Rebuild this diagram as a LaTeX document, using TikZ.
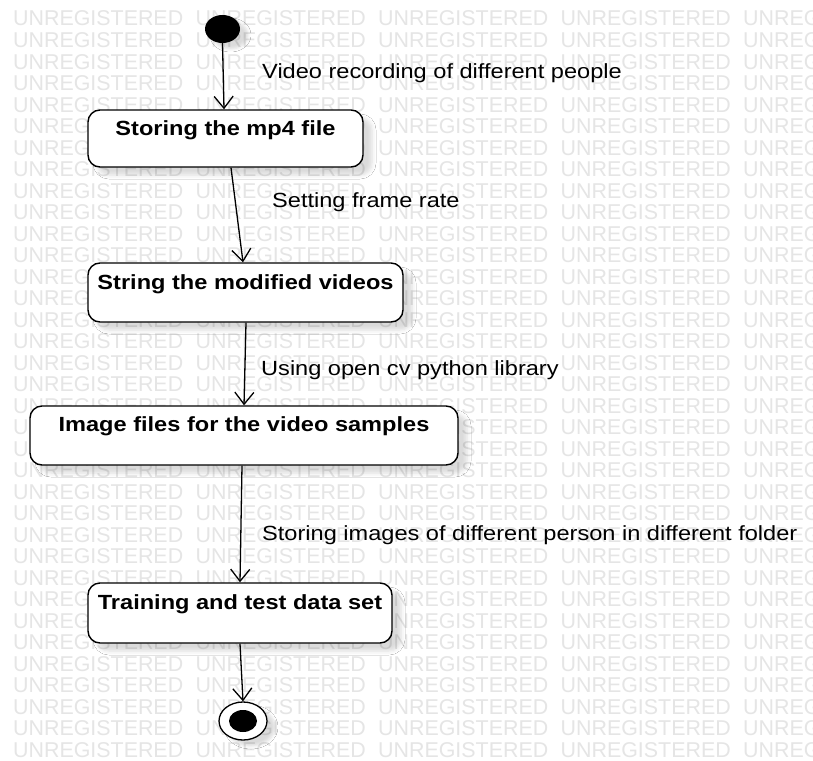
\documentclass[tikz,border=0pt]{standalone}
\usepackage{fontspec}
\setmainfont{Liberation Sans}
\usepackage{graphicx}
\usetikzlibrary{arrows.meta,shapes.geometric,shadows.blur}
\newcommand\widetext[1]{\scalebox{1.15}[1]{#1}}
\begin{document}
\begin{tikzpicture}[x=1pt,y=-1pt,
  wm/.style={inner sep=0pt, text=black!10, font=\fontsize{21.4}{24}\selectfont},
  statebox/.style={draw=black, line width=1.4pt, rounded corners=12pt, fill=white,
    inner sep=0pt, blur shadow={shadow xshift=9pt, shadow yshift=-8pt, shadow blur radius=4pt, shadow opacity=14}},
  title/.style={inner sep=0pt, anchor=base, font=\fontsize{20.5}{24}\selectfont\bfseries},
  lbl/.style={inner sep=0pt, anchor=base west, font=\fontsize{20.5}{24}\selectfont},
  flow/.style={draw=black, line width=1.3pt, -{Straight Barb[length=12pt,width=19pt,line width=1.3pt]}},
  startnode/.style={ellipse, fill=black, inner sep=0pt, minimum width=35pt, minimum height=28pt,
    blur shadow={shadow xshift=8pt, shadow yshift=-6pt, shadow blur radius=3pt, shadow opacity=14}},
  endouter/.style={ellipse, draw=black, line width=1.3pt, fill=white, inner sep=0pt, minimum width=48pt, minimum height=38pt,
    blur shadow={shadow xshift=8pt, shadow yshift=-6pt, shadow blur radius=3pt, shadow opacity=14}},
  endinner/.style={ellipse, fill=black, inner sep=0pt, minimum width=28pt, minimum height=22pt}
]
\useasboundingbox (0,0) rectangle (813,760);
\fill[white] (0,0) rectangle (813,760);
\begin{scope}
\clip (0,0) rectangle (813,760);
\foreach \r in {0,...,34}{
  \foreach \c in {0,...,4}{
    \node[wm, anchor=base west] (w-\r-\c) at ({13+182.5*\c},{26+21.5*\r}) {UNREGISTERED};
  }
}
\end{scope}

% states
\node[startnode] (init) at (222.5,29) {};
\node[statebox, minimum width=275pt, minimum height=57pt] (b1) at (225.5,138.5) {};
\node[statebox, minimum width=315pt, minimum height=59pt] (b2) at (245.5,292.5) {};
\node[statebox, minimum width=428pt, minimum height=59pt] (b3) at (244,435.5) {};
\node[statebox, minimum width=304pt, minimum height=60pt] (b4) at (240,613) {};
\node[endouter] (fin) at (243,721) {};
\node[endinner] (fincore) at (fin.center) {};

% titles
\node[title] (t1) at ([yshift=-26.5pt]b1.north) {\widetext{Storing the mp4 file}};
\node[title] (t2) at ([yshift=-27pt]b2.north) {\widetext{String the modified videos}};
\node[title] (t3) at ([yshift=-26pt]b3.north) {\widetext{Image files for the video samples}};
\node[title] (t4) at ([yshift=-27pt]b4.north) {\widetext{Training and test data set}};

% transitions
\draw[flow] (init.south) -- ([xshift=-1.5pt]b1.north);
\draw[flow] ([xshift=5.5pt]b1.south) -- ([xshift=-2.5pt]b2.north);
\draw[flow] ([xshift=0.5pt]b2.south) -- (b3.north);
\draw[flow] ([xshift=-2pt]b3.south) -- (b4.north);
\draw[flow] (b4.south) -- (fin.north);

% labels
\node[lbl] (l1) at (262,78) {\widetext{Video recording of different people}};
\node[lbl] (l2) at (272,207) {\widetext{Setting frame rate}};
\node[lbl] (l3) at (261,375) {\widetext{Using open cv python library}};
\node[lbl] (l4) at (262,540) {\widetext{Storing images of different person in different folder}};
\end{tikzpicture}
\end{document}
